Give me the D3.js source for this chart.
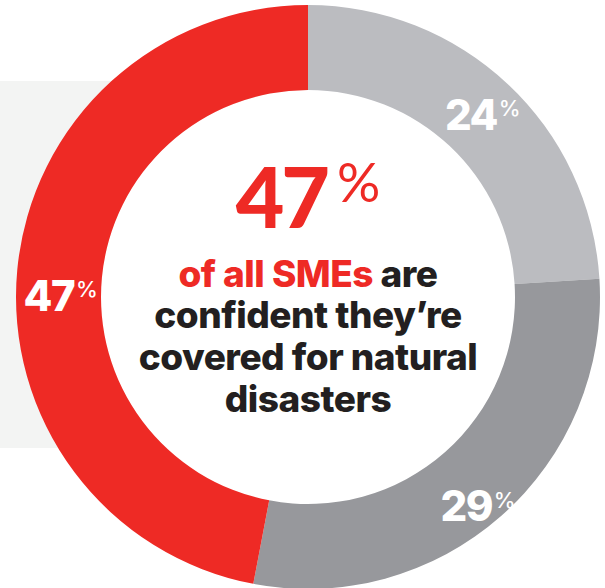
<!doctype html>
<html>
<head>
    <title>SME natural disaster cover</title>
    <script src="https://d3js.org/d3.v7.min.js"></script>
    <style>
      body { margin: 0; background: #fff; }
      text { font-family: "Lato", sans-serif; }
    </style>
</head>
<body>
    <script>
    var width = 605, height = 588;

    // segments, clockwise from 12 o'clock
    var segments = ["Not confident", "Unsure", "Confident"];
    var values = [24, 29, 47];
    var colours = ["#bbbcc0", "#97989c", "#ee2a25"];

    var headline = 47;
    var lines = [
      [["of all SMEs ", "#ee2a25"], ["are", "#231f20"]],
      [["confident they\u2019re", "#231f20"]],
      [["covered for natural", "#231f20"]],
      [["disasters", "#231f20"]]
    ];

    var cx = 308, cy = 297, outerR = 292, innerR = 207;
    // small shifts so labels sit where the original puts them
    var nudge = [[4, 0], [5, 22], [1, 22]];

    var svg = d3.select("body")
                .append("svg")
                .attr("width", width)
                .attr("height", height);

    // pale panel behind the left of the ring
    svg.append("rect")
       .attr("x", 0).attr("y", 81)
       .attr("width", cx).attr("height", 367)
       .style("fill", "#f3f4f3");

    var g = svg.append("g").attr("transform", "translate(" + cx + "," + cy + ")");

    g.append("circle").attr("r", innerR).style("fill", "#fff");

    var pie = d3.pie().sort(null).value(function(d){ return d; });
    var arc = d3.arc().innerRadius(innerR).outerRadius(outerR);
    var arcs = pie(values);

    g.selectAll("path.seg")
     .data(arcs)
     .enter()
     .append("path")
     .attr("class", "seg")
     .attr("d", arc)
     .style("fill", function(d, i){ return colours[i]; });

    var labels = g.selectAll("text.lab")
     .data(arcs)
     .enter()
     .append("text")
     .attr("class", "lab")
     .attr("text-anchor", "middle")
     .attr("x", function(d, i){ return arc.centroid(d)[0] + nudge[i][0]; })
     .attr("y", function(d, i){ return arc.centroid(d)[1] + nudge[i][1] + 15; })
     .style("fill", "#fff")
     .style("font-family", "Inter, sans-serif")
     .style("font-weight", 800)
     .style("font-size", "42px")
     .style("letter-spacing", "-1.5px");

    labels.append("tspan").text(function(d){ return d.value; });
    labels.append("tspan")
          .attr("dy", "-0.62em")
          .attr("dx", "0.08em")
          .style("font-size", "22px")
          .style("font-weight", 500)
          .style("letter-spacing", "0px")
          .text("%");

    // headline number
    var head = g.append("text")
      .attr("text-anchor", "middle")
      .attr("x", 0)
      .attr("y", 228 - cy)
      .style("fill", "#ee2a25")
      .style("font-weight", 900)
      .style("font-size", "84px")
      .style("letter-spacing", "-3px");
    head.append("tspan").text(headline);
    head.append("tspan")
        .attr("dx", "10px")
        .attr("dy", "-0.48em")
        .style("font-size", "54px")
        .style("font-weight", 400)
        .style("letter-spacing", "0px")
        .text("%");

    var baselines = [287, 328, 370, 412];
    lines.forEach(function(line, i){
      var t = g.append("text")
        .attr("text-anchor", "middle")
        .attr("x", 0)
        .attr("y", baselines[i] - cy)
        .style("font-family", "Inter, sans-serif")
        .style("font-weight", 800)
        .style("font-size", "37px")
        .style("letter-spacing", "-0.5px");
      line.forEach(function(part){
        t.append("tspan").style("fill", part[1]).text(part[0]);
      });
    });
    </script>
</body>
</html>
